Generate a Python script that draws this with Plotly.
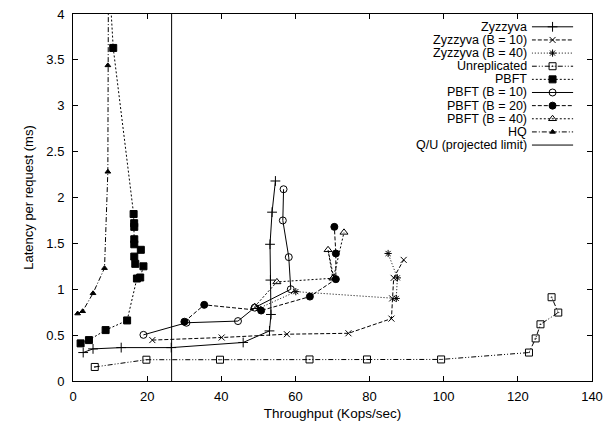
import plotly.graph_objects as go

# ---------------- data (Throughput Kops/sec, Latency ms) ----------------
zyz_x = [2.75, 5.4, 13.0, 26.5, 45.9, 53.0, 53.4, 53.25, 53.15, 53.7, 54.6]
zyz_y = [0.31, 0.35, 0.364, 0.364, 0.42, 0.546, 0.725, 1.10, 1.49, 1.84, 2.18]

zyz10_x = [21.4, 40.1, 57.7, 74.3, 85.9, 86.1, 86.5, 89.2]
zyz10_y = [0.446, 0.474, 0.51, 0.52, 0.68, 0.90, 1.124, 1.32]

zyz40_x = [50.0, 60.1, 87.2, 87.5, 85.0]
zyz40_y = [0.79, 0.974, 0.90, 1.124, 1.39]

unrep_x = [5.87, 19.8, 39.65, 63.8, 79.3, 99.3, 123.0, 124.8, 126.1, 130.9, 129.1]
unrep_y = [0.153, 0.232, 0.232, 0.235, 0.235, 0.235, 0.31, 0.464, 0.618, 0.746, 0.913]

pbft_x = [2.05, 4.3, 8.8, 14.6, 17.24, 18.13, 19.0, 16.8, 16.53, 18.3, 16.53, 16.53, 16.53, 16.5, 16.35, 10.85, 9.6]
pbft_y = [0.41, 0.446, 0.555, 0.66, 1.117, 1.128, 1.25, 1.277, 1.356, 1.43, 1.49, 1.545, 1.68, 1.72, 1.82, 3.63, 4.5]

pbft10_x = [19.0, 30.6, 44.5, 49.0, 58.75, 58.2, 56.6, 56.8]
pbft10_y = [0.503, 0.635, 0.653, 0.80, 1.0, 1.35, 1.75, 2.09]

pbft20_x = [30.05, 35.4, 50.75, 63.9, 70.9, 70.9, 70.5]
pbft20_y = [0.646, 0.83, 0.768, 0.92, 1.11, 1.39, 1.68]

pbft40_x = [49.0, 55.0, 70.1, 68.8, 70.3, 73.1]
pbft40_y = [0.81, 1.08, 1.12, 1.43, 1.13, 1.62]

hq_x = [1.25, 2.6, 5.4, 8.5, 9.4, 9.4, 9.6]
hq_y = [0.735, 0.76, 0.956, 1.23, 2.28, 3.44, 5.0]

qu_limit = 26.6

x_ticks = [0, 20, 40, 60, 80, 100, 120, 140]
y_ticks = [0, 0.5, 1, 1.5, 2, 2.5, 3, 3.5, 4]

FONT = "Liberation Sans, Arial, sans-serif"

series = [
    ("Zyzzyva", zyz_x, zyz_y, "solid", "cross-thin-open", 7),
    ("Zyzzyva (B = 10)", zyz10_x, zyz10_y, "4px,2px", "x-thin-open", 6),
    ("Zyzzyva (B = 40)", zyz40_x, zyz40_y, "1px,2px", "asterisk-open", 6),
    ("Unreplicated", unrep_x, unrep_y, "5px,2px,1px,2px,1px,2px", "square-open-dot", 7),
    ("PBFT", pbft_x, pbft_y, "2px,2px", "square", 7),
    ("PBFT (B = 10)", pbft10_x, pbft10_y, "solid", "circle-open", 7),
    ("PBFT (B = 20)", pbft20_x, pbft20_y, "4px,2px", "circle", 7),
    ("PBFT (B = 40)", pbft40_x, pbft40_y, "2px,2px", "triangle-up-open", 7),
    ("HQ", hq_x, hq_y, "5px,2px,1px,2px", "triangle-up", 5),
]

fig = go.Figure()

for name, xs, ys, dash, sym, ms in series:
    fig.add_trace(go.Scatter(
        x=xs, y=ys, mode="lines+markers", name=name,
        line=dict(color="black", width=1, dash=dash),
        marker=dict(symbol=sym, size=ms, color="black",
                    line=dict(color="black", width=1)),
        showlegend=False,
    ))

fig.add_trace(go.Scatter(
    x=[qu_limit, qu_limit], y=[0, 4], mode="lines", name="Q/U (projected limit)",
    line=dict(color="black", width=1), showlegend=False,
))

# ------------- custom gnuplot-style legend (text right, sample right) -------------
legend_names = [s[0] for s in series] + ["Q/U (projected limit)"]
for i, name in enumerate(legend_names):
    if i < len(series):
        _, _, _, dash, sym, ms = series[i]
    else:
        dash, sym, ms = "solid", None, 0
    fig.add_trace(go.Scatter(
        x=[0, 1], y=[i, i], mode="lines", xaxis="x2", yaxis="y2",
        line=dict(color="black", width=1, dash=dash), showlegend=False,
        hoverinfo="skip",
    ))
    if sym:
        fig.add_trace(go.Scatter(
            x=[0.5], y=[i], mode="markers", xaxis="x2", yaxis="y2",
            marker=dict(symbol=sym, size=ms, color="black",
                        line=dict(color="black", width=1)),
            showlegend=False, hoverinfo="skip",
        ))
    fig.add_annotation(
        x=0.876, xref="paper", y=i, yref="y2", text=name, showarrow=False,
        xanchor="right", yanchor="middle", borderpad=0,
        font=dict(family=FONT, size=12.5, color="black"),
    )

axis_common = dict(
    showline=True, linecolor="black", linewidth=1, mirror="allticks",
    ticks="inside", ticklen=5, tickcolor="black", showgrid=False, zeroline=False,
    tickfont=dict(family=FONT, size=13, color="black"),
)

fig.update_layout(
    width=610, height=429,
    margin=dict(l=73, r=12, t=7, b=48),
    paper_bgcolor="white", plot_bgcolor="white",
    showlegend=False,
    font=dict(family=FONT, size=13, color="black"),
    xaxis=dict(range=[0, 140], tickvals=x_ticks, ticktext=[str(v) for v in x_ticks],
               title=dict(text="Throughput (Kops/sec)", standoff=5,
                          font=dict(family=FONT, size=13.5)),
               ticklabelstandoff=3, **axis_common),
    yaxis=dict(range=[0, 4], tickvals=y_ticks, ticktext=[f"{v:g}" for v in y_ticks],
               title=dict(text="Latency per request (ms)", standoff=9,
                          font=dict(family=FONT, size=13)),
               ticklabelstandoff=5, **axis_common),
    xaxis2=dict(domain=[0.884, 0.964], range=[0, 1], visible=False, anchor="y2"),
    yaxis2=dict(domain=[0.625, 0.983], range=[9.5, -0.5], visible=False, anchor="x2"),
)

fig.write_html("out.html")
